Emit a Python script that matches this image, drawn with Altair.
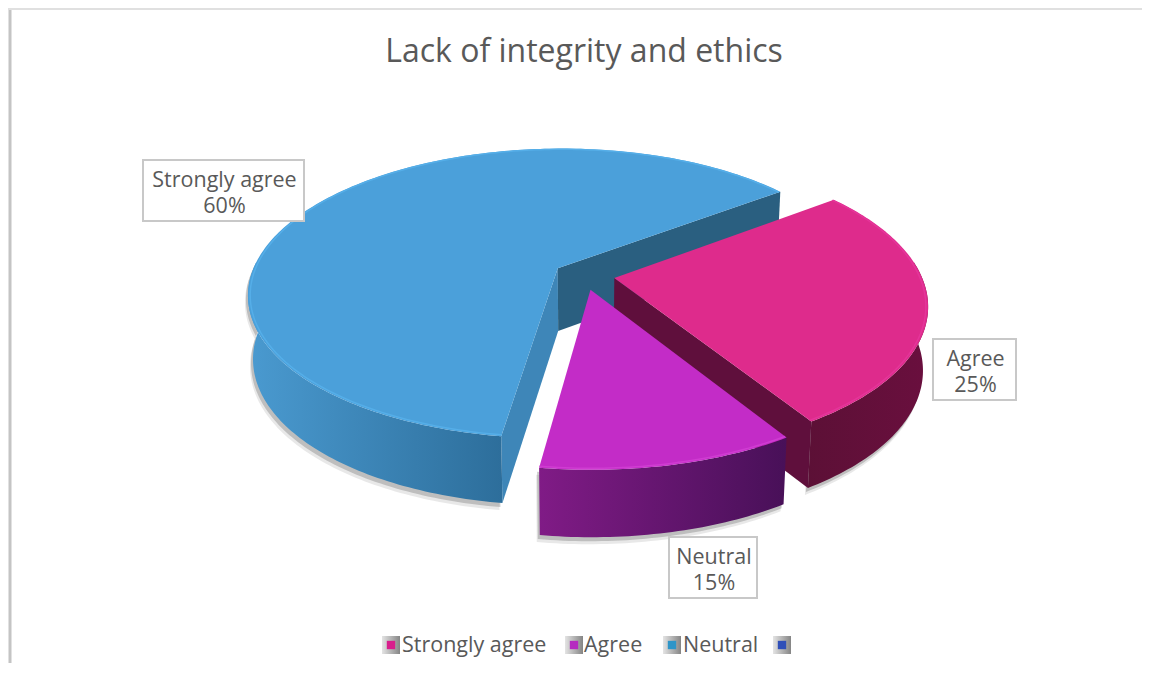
import math
import altair as alt
import pandas as pd

# --- data ---
categories = ["Strongly agree", "Agree", "Neutral"]
percents = [60, 25, 15]
legend_labels = ["Strongly agree", "Agree", "Neutral", ""]
legend_colors = ["#D81E8C", "#B52AC0", "#2E95C8", "#2F4FB8"]
title_text = "Lack of integrity and ethics"

# apparent angle change caused by the picture's perspective (degrees)
apparent_correction = [9, 5, -14]
first_angle = 188

# --- style and layout ---
top_colors = ["#4BA0DA", "#DE2B8C", "#C32CC7"]
rim_colors = ["#55AEE8", "#E5349A", "#D03CD2"]
wall_stops = [("#4A9AD0", "#2D6E9B"), ("#5C1036", "#6A0F3E"), ("#801B86", "#481058")]
cut_colors = ["#2A5F80", "#5F0F3C"]
TEXT = "#595959"
FONT = "Open Sans"
W, H = 1134, 655
XS = alt.Scale(domain=[8, 8 + W], range=[0, W])
YS = alt.Scale(domain=[8, 8 + H], range=[0, H])
xc, yc, a, b, k, e = 584, 275.5, 307, 143, 0.175, 0.10


def P(u, v, down=False):
    s = 1 - k * v
    X = xc + a * u / s
    Y = yc + b * v / s
    if down:
        X = xc + (X - xc) * 0.985
        Y += 63 + 4 * v
    return X, Y


def grad(c1, c2):
    return alt.Gradient(
        gradient="linear",
        stops=[alt.GradientStop(color=c1, offset=0), alt.GradientStop(color=c2, offset=1)],
        x1=0, x2=1, y1=0, y2=0,
    )


def poly(points, fill, opacity=1.0):
    df = pd.DataFrame(points, columns=["x", "y"])
    df["i"] = range(len(df))
    return alt.Chart(df).mark_line(
        fill=fill, stroke="transparent", strokeWidth=0, opacity=opacity, interpolate="linear"
    ).encode(
        x=alt.X("x:Q", scale=XS, axis=None),
        y=alt.Y("y:Q", scale=YS, axis=None),
        order="i:Q",
    )


def stroke_path(points, color, width):
    df = pd.DataFrame(points, columns=["x", "y"])
    df["i"] = range(len(df))
    return alt.Chart(df).mark_line(color=color, strokeWidth=width).encode(
        x=alt.X("x:Q", scale=XS, axis=None),
        y=alt.Y("y:Q", scale=YS, axis=None),
        order="i:Q",
    )


# wedge angles
sweeps = [p * 3.6 + c for p, c in zip(percents, apparent_correction)]
angles = []
t = first_angle
for s in sweeps:
    angles.append((t, t + s))
    t += s

slices = []
for (t0, t1) in angles:
    m = math.radians((t0 + t1) / 2)
    u0, v0 = e * math.sin(m), -e * math.cos(m)
    n = int(abs(t1 - t0)) + 1
    ths = [math.radians(t0 + (t1 - t0) * i / n) for i in range(n + 1)]
    rim = [(u0 + math.sin(h), v0 - math.cos(h)) for h in ths]
    slices.append({"apex": (u0, v0), "rim": rim})

layers = []

# frame
layers.append(alt.Chart(pd.DataFrame({"a": [0]})).mark_rule(color="#C4C4C4", strokeWidth=3).encode(
    x=alt.value(2), y=alt.value(0), y2=alt.value(H)))
layers.append(alt.Chart(pd.DataFrame({"a": [0]})).mark_rule(color="#E0E0E0", strokeWidth=2).encode(
    x=alt.value(0), x2=alt.value(W), y=alt.value(1)))


def wall_polygon(rim):
    return [P(u, v) for u, v in rim] + [P(u, v, True) for u, v in reversed(rim)]


def shadow(rim, dx, dy):
    pts = wall_polygon(rim)
    return [(x + dx, y + dy) for x, y in pts]


for i in range(3):
    sl = slices[i]
    front = [(u, v) for u, v in sl["rim"] if v > -0.1]
    layers.append(poly(shadow(front, -3, 7), "#808080", 0.18))
    layers.append(poly(shadow(front, -2, 4), "#707070", 0.35))
    if i == 0:
        apex = sl["apex"]
        start, end = sl["rim"][0], sl["rim"][-1]
        layers.append(poly([P(*apex), P(*start), P(*start, True), P(*apex, True)], "#3E86B8"))
        layers.append(poly([P(*apex), P(*end), P(*end, True), P(*apex, True)], cut_colors[0]))
    if i == 1:
        apex = sl["apex"]
        end = sl["rim"][-1]
        layers.append(poly([P(*apex), P(*end), P(*end, True), P(*apex, True)], cut_colors[1]))
    layers.append(poly(wall_polygon(front), grad(*wall_stops[i])))
    top = [P(*sl["apex"])] + [P(u, v) for u, v in sl["rim"]]
    layers.append(poly(top, top_colors[i]))
    ap = sl["apex"]
    inner = [P(ap[0] + (u - ap[0]) * 0.993, ap[1] + (v - ap[1]) * 0.993) for u, v in sl["rim"]]
    layers.append(stroke_path(inner, rim_colors[i], 1.5))

# title
title_df = pd.DataFrame({"t": [title_text], "x": [584], "y": [52]})
layers.append(alt.Chart(title_df).mark_text(font=FONT, fontSize=32, color=TEXT).encode(
    x=alt.X("x:Q", scale=XS, axis=None), y=alt.Y("y:Q", scale=YS, axis=None), text="t:N"))

# data labels
boxes = [(143, 304, 160, 221), (933, 1016, 339, 400), (669, 757, 537, 598)]
box_df = pd.DataFrame(boxes, columns=["x", "x2", "y", "y2"])
layers.append(alt.Chart(box_df).mark_rect(fill="white", stroke="#C8C8C8", strokeWidth=2).encode(
    x=alt.X("x:Q", scale=XS, axis=None), x2="x2:Q",
    y=alt.Y("y:Q", scale=YS, axis=None), y2="y2:Q"))
rows = []
for c, p, (x0, x1, y0, y1) in zip(categories, percents, boxes):
    rows.append({"t": f"{c}\n{p}%", "x": (x0 + x1) / 2 + 1, "y": y0 + 21})
layers.append(alt.Chart(pd.DataFrame(rows)).mark_text(
    font=FONT, fontSize=21.5, color=TEXT, lineBreak="\n", lineHeight=26, baseline="middle"
).encode(
    x=alt.X("x:Q", scale=XS, axis=None), y=alt.Y("y:Q", scale=YS, axis=None), text="t:N"))

# legend
swatch_x = [391, 574, 672, 782]
text_x = [402, 584, 683, 800]
leg_df = pd.DataFrame({"x": swatch_x, "y": [645] * 4, "c": legend_colors})
layers.append(alt.Chart(leg_df).mark_square(
    size=324, opacity=1,
    fill=alt.Gradient(gradient="linear",
                      stops=[alt.GradientStop(color="#E4E4E4", offset=0),
                             alt.GradientStop(color="#858585", offset=1)],
                      x1=0, x2=1, y1=0, y2=0),
).encode(x=alt.X("x:Q", scale=XS, axis=None), y=alt.Y("y:Q", scale=YS, axis=None)))
layers.append(alt.Chart(leg_df).mark_square(size=70, opacity=1).encode(
    x=alt.X("x:Q", scale=XS, axis=None), y=alt.Y("y:Q", scale=YS, axis=None),
    fill=alt.Fill("c:N", scale=None, legend=None)))
leg_txt = pd.DataFrame({"t": legend_labels, "x": text_x, "y": [646] * 4})
layers.append(alt.Chart(leg_txt).mark_text(font=FONT, fontSize=21.5, color=TEXT, align="left").encode(
    x=alt.X("x:Q", scale=XS, axis=None), y=alt.Y("y:Q", scale=YS, axis=None), text="t:N"))

chart = alt.layer(*layers).properties(
    width=W, height=H, padding=0, autosize="none"
).configure_view(stroke=None)

chart.save("out.html", embed_options={"renderer": "svg", "actions": False})
